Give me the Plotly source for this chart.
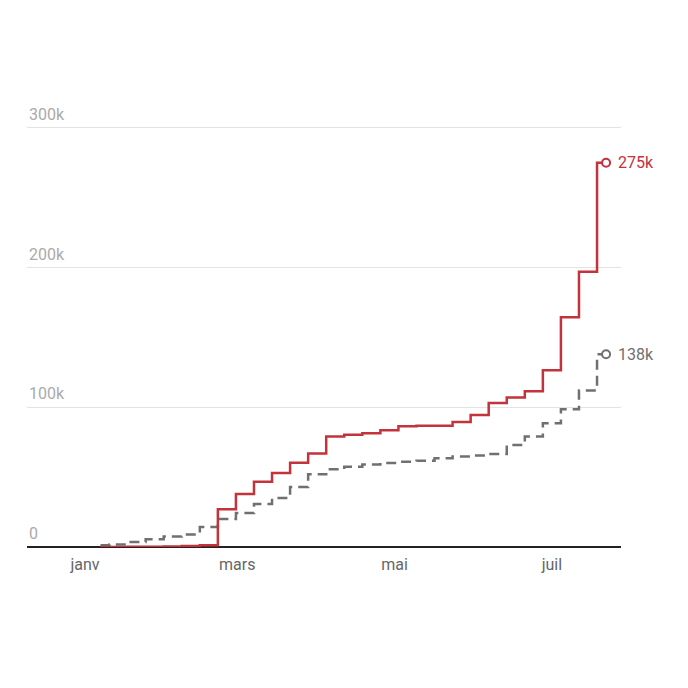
import plotly.graph_objects as go

# semaines (fin de semaine), valeurs cumulées
weeks = [
    "2021-01-07", "2021-01-14", "2021-01-21", "2021-01-28", "2021-02-04",
    "2021-02-11", "2021-02-18", "2021-02-25", "2021-03-04", "2021-03-11",
    "2021-03-18", "2021-03-25", "2021-04-01", "2021-04-08", "2021-04-15",
    "2021-04-22", "2021-04-29", "2021-05-06", "2021-05-13", "2021-05-20",
    "2021-05-27", "2021-06-03", "2021-06-10", "2021-06-17", "2021-06-24",
    "2021-07-01", "2021-07-08", "2021-07-15", "2021-07-22",
]
red_vals = [
    0, 0, 100, 200, 400, 800, 1200, 27000, 38000, 46700,
    53000, 60300, 67000, 79000, 80400, 81400, 83500, 86500, 86700, 86800,
    89500, 94500, 103000, 107000, 111500, 126500, 164500, 197000, 275000,
]
grey_vals = [
    1300, 1800, 3500, 5500, 7500, 9000, 14300, 20000, 24300, 30700,
    35000, 43000, 52000, 55600, 57500, 59000, 60200, 61000, 61800, 63500,
    64700, 65400, 66600, 73000, 79000, 88500, 98500, 112000, 138000,
]
end_labels = ["275k", "138k"]

month_ticks = ["2021-01-01", "2021-03-01", "2021-05-01", "2021-07-01"]
month_text = ["janv", "mars", "mai", "juil"]
y_ticks = [0, 100000, 200000, 300000]
y_text = ["0", "100k", "200k", "300k"]

RED = "#c4323c"
GREY = "#707070"

fig = go.Figure()

fig.add_trace(go.Scatter(
    x=weeks, y=grey_vals, mode="lines",
    line=dict(color=GREY, width=2.5, shape="hvh", dash="10px,6px"),
    hoverinfo="skip",
))
fig.add_trace(go.Scatter(
    x=weeks, y=red_vals, mode="lines",
    line=dict(color=RED, width=2.5, shape="hvh"),
    hoverinfo="skip",
))

# points finaux + étiquettes
for vals, col, lab in [(red_vals, RED, end_labels[0]), (grey_vals, GREY, end_labels[1])]:
    fig.add_trace(go.Scatter(
        x=[weeks[-1]], y=[vals[-1]], mode="markers",
        marker=dict(symbol="circle", size=8, color="white",
                    line=dict(color=col, width=2)),
        hoverinfo="skip",
    ))
    fig.add_annotation(
        x=weeks[-1], y=vals[-1], text=lab, showarrow=False,
        xanchor="left", yanchor="middle", xshift=10,
        font=dict(family="Roboto", size=16, color=col),
    )

# étiquettes de l'axe y au-dessus des lignes de grille
for v, t in zip(y_ticks, y_text):
    fig.add_annotation(
        xref="paper", x=0, y=v, text=t, showarrow=False,
        xanchor="left", yanchor="bottom", yshift=2,
        font=dict(family="Roboto", size=16, color="#aaaaaa"),
    )

fig.update_layout(
    width=688, height=688,
    margin=dict(l=27, r=67, t=125, b=141),
    paper_bgcolor="white", plot_bgcolor="white",
    showlegend=False,
    font=dict(family="Roboto", size=16, color="#777"),
)
fig.update_xaxes(
    range=["2020-12-09 12:00", "2021-07-27 19:00"],
    tickvals=month_ticks, ticktext=month_text,
    showgrid=False, zeroline=False,
    showline=False, ticks="",
    ticklabelstandoff=6,
    tickfont=dict(family="Roboto", size=16, color="#666666"),
)
fig.update_yaxes(
    range=[0, 302000],
    tickvals=y_ticks, showticklabels=False,
    showgrid=True, gridcolor="#e3e3e3", gridwidth=1,
    zeroline=True, zerolinecolor="#222", zerolinewidth=1.5,
)

fig.write_html("out.html", config={"displayModeBar": False},
               post_script="document.body.style.margin='0';")
